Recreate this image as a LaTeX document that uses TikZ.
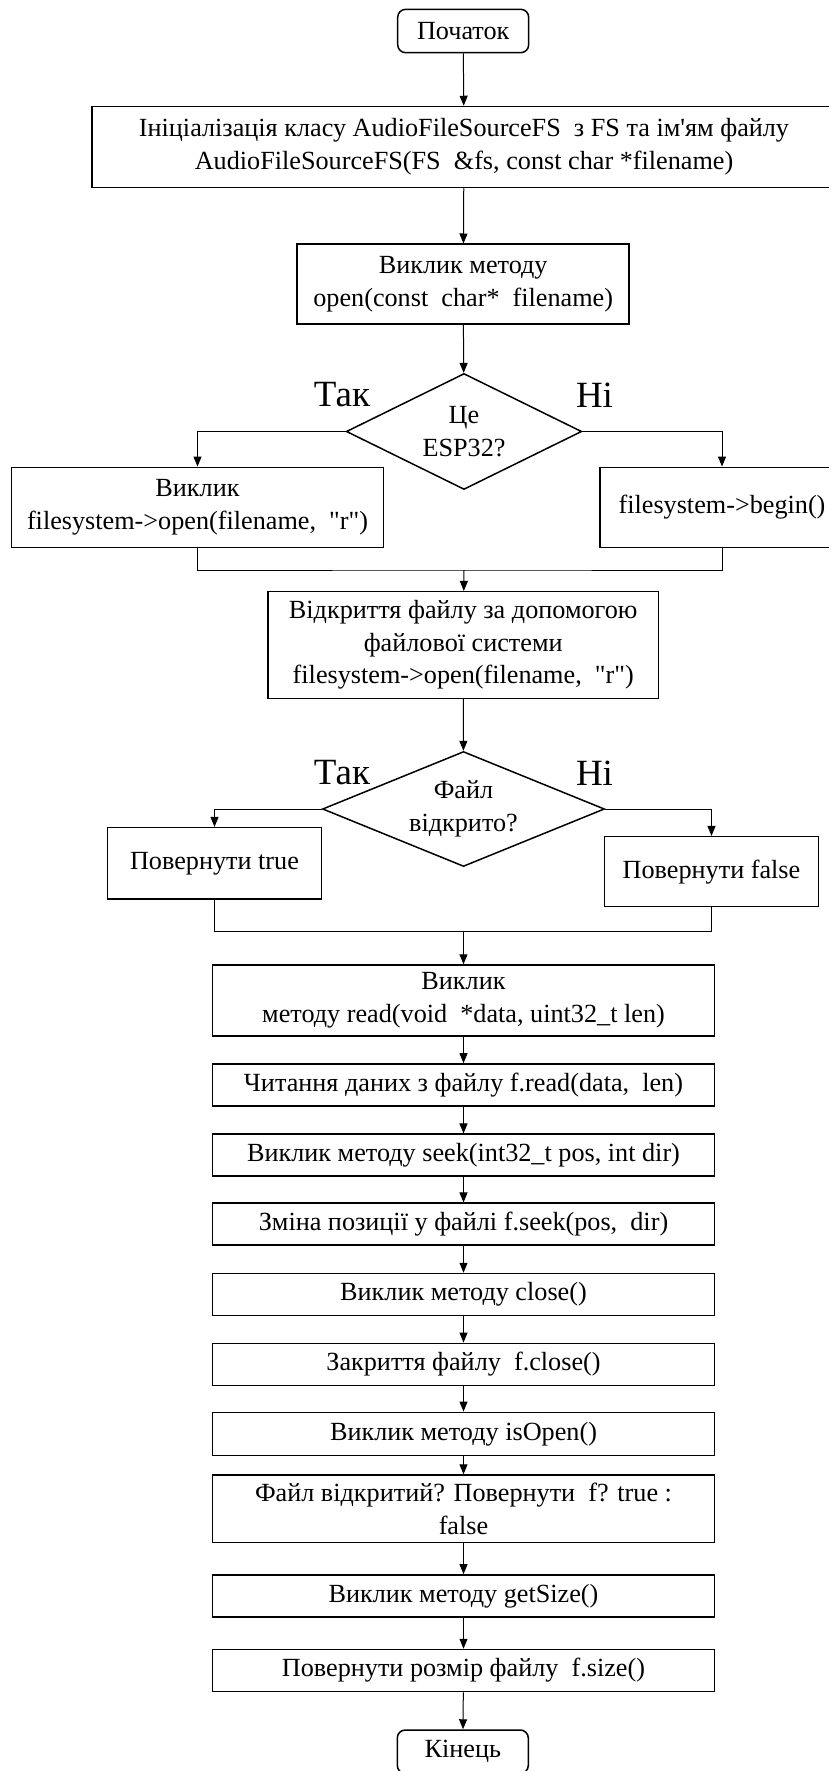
\documentclass[tikz,border=0pt]{standalone}
\usepackage{fontspec}
\setmainfont{Liberation Serif}
\usetikzlibrary{shapes.geometric,arrows.meta}

\tikzset{
  txt/.style={font=\fontsize{26.2}{32.6}\selectfont, align=center, inner sep=0pt},
  procbox/.style={txt, draw, line width=1.5pt, rectangle, minimum height=42pt},
  wide/.style={procbox, minimum width=502pt},
  termbox/.style={txt, draw, line width=1.5pt, rectangle, rounded corners=8pt,
                  minimum width=131pt, minimum height=43.4pt},
  decision/.style={txt, draw, line width=1.5pt, diamond, aspect=2},
  branchlbl/.style={font=\fontsize{37}{42}\selectfont, inner sep=0pt},
  conn/.style={line width=1pt},
  arrow/.style={conn, -{Triangle[length=10pt,width=8pt]}},
}
\newcommand{\dq}{\textquotedbl}

\begin{document}
\begin{tikzpicture}[x=1pt,y=-1pt]
  \useasboundingbox (0,0) rectangle (829,1771);
  \fill[white] (0,0) rectangle (829,1771);
  \clip (0,0) rectangle (829,1771);

  % upper part: initialisation and open()
  \node[termbox] (start) at (463.2,31) {Початок};
  \node[procbox, minimum width=744pt, minimum height=81pt] (init) at (464,147)
    {Ініціалізація класу AudioFileSourceFS \ з FS та ім\textquotesingle ям файлу\\
     AudioFileSourceFS(FS \ \&fs, const char *filename)};
  \node[procbox, minimum width=332pt, minimum height=79.5pt] (open) at (463.2,284)
    {Виклик методу\\open(const \ char* \ filename)};

  \node[decision, minimum width=235.4pt, minimum height=116pt] (d1) at (464,431.5)
    {Це\\ESP32?};
  \node[branchlbl] (yes1) at (342,395) {Так};
  \node[branchlbl] (no1) at (594.5,395) {Ні};

  \node[procbox, minimum width=372pt, minimum height=80pt] (left1) at (197.5,507.3)
    {Виклик\\filesystem->open(filename, \ \dq r\dq)};
  \node[procbox, minimum width=244pt, minimum height=80pt] (right1) at (722,507.3)
    {filesystem->begin()};
  \coordinate (m1) at (464,570);

  \node[procbox, minimum width=390.4pt, minimum height=106.6pt] (vid) at (463.2,645)
    {Відкриття файлу за допомогою\\файлової системи\\filesystem->open(filename, \ \dq r\dq)};

  \node[decision, minimum width=282pt, minimum height=115pt] (d2) at (463.5,809)
    {Файл\\відкрито?};
  \node[branchlbl] (yes2) at (342,773) {Так};
  \node[branchlbl] (no2) at (594.5,773) {Ні};

  \node[procbox, minimum width=214pt, minimum height=71.3pt] (ok) at (214.5,863.3)
    {Повернути true};
  \node[procbox, minimum width=214pt, minimum height=70pt] (fail) at (711.5,871.7)
    {Повернути false};
  \coordinate (m2) at (463.5,931.7);

  % lower part: method calls
  \node[wide, minimum height=71pt] (read) at (463.5,1000.5)
    {Виклик\\методу read(void \ *data, uint32\_t len)};
  \node[wide] (fread) at (463.5,1084.9) {Читання даних з файлу f.read(data, \ len)};
  \node[wide] (seek) at (463.5,1155.2) {Виклик методу seek(int32\_t pos, int dir)};
  \node[wide] (fseek) at (463.5,1224.2) {Зміна позиції у файлі f.seek(pos, \ dir)};
  \node[wide] (close) at (463.5,1294.5) {Виклик методу close()};
  \node[wide] (fclose) at (463.5,1364.3) {Закриття файлу \ f.close()};
  \node[wide, minimum height=43.4pt] (isopen) at (463.5,1434) {Виклик методу isOpen()};
  \node[wide, minimum height=67.3pt] (ret) at (463.5,1508.7)
    {Файл відкритий? Повернути \ f? true :\\false};
  \node[wide] (getsize) at (463.5,1595.9) {Виклик методу getSize()};
  \node[wide] (fsize) at (463.5,1670.5) {Повернути розмір файлу \ f.size()};
  \node[termbox] (end) at (462.8,1751.7) {Кінець};

  % connectors
  \draw[arrow] (start) -- (init);
  \draw[arrow] (init) -- (open);
  \draw[arrow] (open) -- (d1);
  \draw[arrow] (d1.west) -| (left1.north);
  \draw[arrow] (d1.east) -| (right1.north);
  \draw[conn] (left1.south) |- (m1) -| (right1.south);
  \draw[arrow] (m1) -- (vid);
  \draw[arrow] (vid) -- (d2);
  \draw[arrow] (d2.west) -| (ok.north);
  \draw[arrow] (d2.east) -| (fail.north);
  \draw[conn] (ok.south) |- (m2) -| (fail.south);
  \draw[arrow] (m2) -- (read);
  \draw[arrow] (read) -- (fread);
  \draw[arrow] (fread) -- (seek);
  \draw[arrow] (seek) -- (fseek);
  \draw[arrow] (fseek) -- (close);
  \draw[arrow] (close) -- (fclose);
  \draw[arrow] (fclose) -- (isopen);
  \draw[arrow] (isopen) -- (ret);
  \draw[arrow] (ret) -- (getsize);
  \draw[arrow] (getsize) -- (fsize);
  \draw[arrow] (fsize) -- (end);
\end{tikzpicture}
\end{document}
